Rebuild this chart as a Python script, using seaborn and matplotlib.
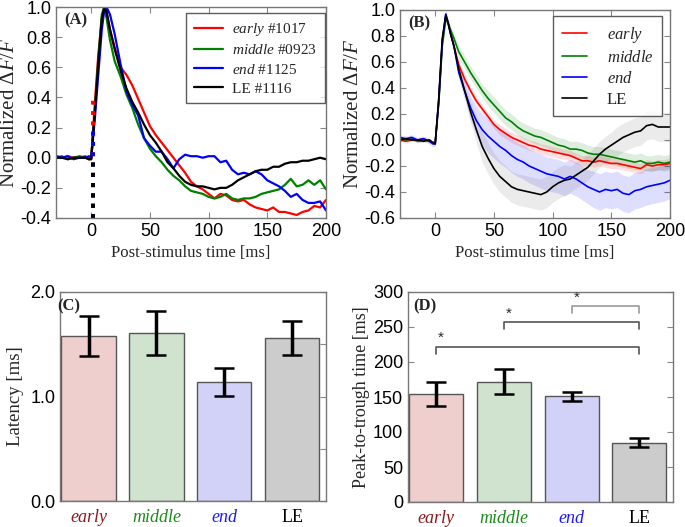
import numpy as np
import pandas as pd
import matplotlib
matplotlib.use("Agg")
import matplotlib.pyplot as plt
import seaborn as sns

# ---- data ----
t = [-30, -25, -20, -15, -10, -5, -2, 0, 3, 6, 9, 11, 13, 16,
     20, 25, 30, 35, 40, 45, 50, 55, 60, 65, 70, 75, 80, 85, 90, 95,
     100, 105, 110, 115, 120, 125, 130, 135, 140, 145, 150, 155, 160, 165,
     170, 175, 180, 185, 190, 195, 200]

# (A) single examples
a_early = [0.01, 0.0, 0.01, 0.0, 0.0, 0.01, -0.01, -0.01, 0.35, 0.68, 0.92, 0.99, 0.97, 0.85,
           0.73, 0.60, 0.55, 0.48, 0.39, 0.30, 0.21, 0.15, 0.10, 0.05, 0.0, -0.05, -0.10, -0.16, -0.19, -0.21,
           -0.24, -0.27, -0.24, -0.25, -0.28, -0.29, -0.28, -0.31, -0.33, -0.34, -0.35, -0.33, -0.36, -0.36,
           -0.37, -0.38, -0.36, -0.35, -0.32, -0.33, -0.28]
a_middle = [0.0, 0.01, -0.01, 0.0, 0.01, 0.0, -0.01, 0.0, 0.30, 0.65, 0.95, 1.0, 0.93, 0.78,
            0.64, 0.54, 0.42, 0.33, 0.22, 0.13, 0.06, 0.01, -0.03, -0.08, -0.12, -0.15, -0.19, -0.22, -0.23, -0.24,
            -0.26, -0.27, -0.26, -0.24, -0.27, -0.28, -0.27, -0.27, -0.26, -0.24, -0.23, -0.22, -0.21, -0.18,
            -0.14, -0.19, -0.18, -0.15, -0.18, -0.15, -0.21]
a_end = [0.01, 0.0, 0.01, -0.01, 0.0, 0.0, 0.01, 0.0, 0.25, 0.55, 0.85, 0.97, 1.0, 0.95,
         0.82, 0.62, 0.44, 0.35, 0.28, 0.13, 0.08, 0.04, 0.04, -0.01, -0.07, -0.01, 0.02, 0.01, 0.01, 0.0,
         0.01, 0.01, -0.03, -0.02, -0.08, -0.11, -0.10, -0.11, -0.09, -0.11, -0.15, -0.17, -0.19, -0.22,
         -0.26, -0.24, -0.28, -0.30, -0.30, -0.29, -0.35]
a_le = [0.0, 0.0, -0.01, 0.0, 0.0, 0.0, -0.01, -0.01, 0.30, 0.62, 0.92, 0.99, 0.97, 0.85,
        0.72, 0.58, 0.46, 0.37, 0.30, 0.22, 0.15, 0.10, 0.04, -0.03, -0.07, -0.12, -0.16, -0.18, -0.19, -0.19,
        -0.20, -0.21, -0.20, -0.20, -0.18, -0.15, -0.13, -0.11, -0.09, -0.08, -0.08, -0.06, -0.06, -0.04,
        -0.03, -0.03, -0.02, -0.02, -0.01, 0.0, -0.01]
a_labels = [r"$\mathit{early}$ #1017", r"$\mathit{middle}$ #0923",
            r"$\mathit{end}$ #1125", "LE #1116"]
onset_x = 1.5
onset_top = [0.4, 0.0, 0.2, 0.0]

# (B) group means and band half widths
b_early = [0.0, -0.01, 0.0, 0.0, 0.01, -0.01, -0.02, -0.02, 0.30, 0.75, 0.95, 0.90, 0.82, 0.72,
           0.58, 0.47, 0.38, 0.30, 0.24, 0.18, 0.12, 0.08, 0.05, 0.02, 0.0, -0.02, -0.04, -0.05, -0.07, -0.08,
           -0.09, -0.10, -0.11, -0.12, -0.14, -0.16, -0.16, -0.17, -0.16, -0.17, -0.18, -0.18, -0.19, -0.20,
           -0.21, -0.22, -0.19, -0.20, -0.19, -0.19, -0.18]
b_middle = [0.01, 0.0, 0.01, -0.01, 0.0, 0.0, -0.02, -0.02, 0.28, 0.72, 0.93, 0.90, 0.85, 0.78,
            0.68, 0.60, 0.52, 0.45, 0.38, 0.32, 0.27, 0.22, 0.17, 0.14, 0.10, 0.07, 0.05, 0.03, 0.02, 0.0,
            -0.02, -0.04, -0.05, -0.07, -0.07, -0.08, -0.10, -0.11, -0.11, -0.12, -0.13, -0.14, -0.15, -0.16,
            -0.17, -0.16, -0.18, -0.18, -0.17, -0.18, -0.17]
b_end = [0.02, 0.01, 0.02, 0.0, 0.01, -0.01, -0.03, -0.03, 0.30, 0.76, 0.97, 0.90, 0.82, 0.72,
         0.52, 0.38, 0.25, 0.15, 0.08, 0.03, -0.01, -0.05, -0.08, -0.12, -0.15, -0.17, -0.20, -0.22, -0.24, -0.26,
         -0.27, -0.28, -0.30, -0.28, -0.30, -0.33, -0.36, -0.38, -0.40, -0.38, -0.39, -0.38, -0.41, -0.42,
         -0.39, -0.38, -0.36, -0.35, -0.34, -0.33, -0.31]
b_le = [0.0, 0.01, 0.0, 0.0, -0.01, 0.0, -0.02, -0.03, 0.32, 0.78, 0.96, 0.90, 0.82, 0.72,
        0.55, 0.38, 0.22, 0.08, -0.05, -0.14, -0.22, -0.28, -0.32, -0.36, -0.38, -0.39, -0.40, -0.41, -0.42, -0.40,
        -0.36, -0.33, -0.31, -0.30, -0.27, -0.24, -0.21, -0.16, -0.11, -0.07, -0.04, -0.01, 0.02, 0.04,
        0.06, 0.07, 0.11, 0.12, 0.10, 0.10, 0.10]
sd_early = [0.01] * 8 + [0.02] * 6 + [0.03] * 7 + [0.04] * 30
sd_middle = [0.01] * 8 + [0.03] * 6 + [0.05] * 5 + [0.06] * 32
sd_end = [0.02] * 8 + [0.03] * 6 + [0.05, 0.07, 0.09, 0.11, 0.12] + [0.13] * 18 + [0.14] * 14
sd_le = [0.01] * 8 + [0.02] * 6 + [0.03, 0.05, 0.08, 0.10, 0.12] + [0.12] * 14 + [0.10] * 8 + [0.11] * 10
b_labels = [r"$\mathit{early}$", r"$\mathit{middle}$", r"$\mathit{end}$", "LE"]

# (C), (D) bars
groups = ["early", "middle", "end", "LE"]
latency = [1.58, 1.61, 1.14, 1.56]
latency_err = [0.19, 0.21, 0.135, 0.165]
p2t = [154, 172, 151, 85]
p2t_err = [17, 18, 6, 7]
# significance brackets: (left group, right group, level)
sig = [(0, 3, 222), (1, 3, 257), (2, 3, 280)]

colors = ["#ff0000", "#008000", "#0000ff", "#000000"]
bar_colors = ["#f4c9c9", "#cce6cc", "#ccccff", "#cccccc"]
tick_colors = ["#8b1a1a", "#1a8c1a", "#1a1aff", "#000000"]

# ---- style ----
sns.set_style("ticks")
plt.rcParams.update({
    "font.family": ["Liberation Sans", "DejaVu Sans"],
    "mathtext.fontset": "custom",
    "mathtext.rm": "Liberation Serif",
    "mathtext.it": "Liberation Serif:italic",
    "mathtext.bf": "Liberation Serif:bold",
    "xtick.direction": "in", "ytick.direction": "in",
    "xtick.top": True, "ytick.right": True,
    "xtick.major.size": 4, "ytick.major.size": 4,
    "axes.edgecolor": "#777777",
    "axes.linewidth": 1.0,
    "xtick.color": "#888888", "ytick.color": "#888888",
    "xtick.labelcolor": "black", "ytick.labelcolor": "black",
    "xtick.labelsize": 13, "ytick.labelsize": 13,
})
serif = "Liberation Serif"

fig = plt.figure(figsize=(6.85, 5.27), dpi=100)
axA = fig.add_axes([56 / 685, 1 - 218 / 527, 270 / 685, 211 / 527])
axB = fig.add_axes([400 / 685, 1 - 218 / 527, 270 / 685, 208 / 527])
axC = fig.add_axes([60 / 685, 1 - 501 / 527, 266 / 685, 209 / 527])
axD = fig.add_axes([408 / 685, 1 - 502 / 527, 265 / 685, 210 / 527])

# panel A
dfA = pd.DataFrame({"t": t * 4,
                    "v": a_early + a_middle + a_end + a_le,
                    "g": sum([[lab] * len(t) for lab in a_labels], [])})
sns.lineplot(data=dfA, x="t", y="v", hue="g", palette=colors, lw=1.6, ax=axA)
for c, top in zip(colors, onset_top):
    axA.vlines(onset_x, -0.4, top, color=c, ls=":", lw=2.8)
axA.set_xlim(-30, 200)
axA.set_ylim(-0.4, 1.0)
axA.set_yticks(np.arange(-0.4, 1.01, 0.2))
axA.set_yticklabels(["%.1f" % v for v in np.arange(-0.4, 1.01, 0.2)])
axA.legend(loc="upper right", frameon=True, fancybox=False, edgecolor="#333333",
           prop={"family": serif, "size": 11}, handlelength=1.9, handletextpad=0.6,
           borderpad=0.5, labelspacing=0.35, borderaxespad=0, bbox_to_anchor=(0.995, 0.97))

# panel B
dfB = pd.DataFrame({"t": t * 4,
                    "v": b_early + b_middle + b_end + b_le,
                    "g": sum([[lab] * len(t) for lab in b_labels], [])})
band = ["#ff0000", "#008000", "#0000ff", "#666666"]
for m, s, c in zip([b_early, b_middle, b_end, b_le],
                   [sd_early, sd_middle, sd_end, sd_le], band):
    m, s = np.array(m), np.array(s)
    axB.fill_between(t, m - s, m + s, color=c, alpha=0.13, lw=0)
sns.lineplot(data=dfB, x="t", y="v", hue="g", palette=colors, lw=1.2, ax=axB)
axB.set_xlim(-30, 200)
axB.set_ylim(-0.6, 1.0)
axB.set_yticks(np.arange(-0.6, 1.01, 0.2))
axB.set_yticklabels(["%.1f" % v for v in np.arange(-0.6, 1.01, 0.2)])
axB.legend(loc="upper right", frameon=True, fancybox=False, edgecolor="#333333",
           prop={"family": serif, "size": 12}, handlelength=1.5, handletextpad=1.2,
           borderpad=0.5, labelspacing=0.3, borderaxespad=0, bbox_to_anchor=(0.97, 0.97))

for ax, lab in [(axA, "(A)"), (axB, "(B)")]:
    ax.set_xticks([0, 50, 100, 150, 200])
    ax.set_xlabel("Post-stimulus time [ms]", family=serif, fontsize=12)
    ax.set_ylabel("Normalized $\\mathit{ΔF/F}$", family=serif, fontsize=15, labelpad=1)
    ax.text(0.03, 0.975, lab, transform=ax.transAxes, family=serif, weight="bold",
            fontsize=12, va="top", ha="left")

# panels C, D
dfC = pd.DataFrame({"g": groups, "lat": latency, "p2t": p2t})
for ax, col, err, lab in [(axC, "lat", latency_err, "(C)"), (axD, "p2t", p2t_err, "(D)")]:
    sns.barplot(data=dfC, x="g", y=col, hue="g", palette=bar_colors, width=0.8,
                edgecolor="#555555", linewidth=1.0, legend=False, ax=ax)
    ax.errorbar(range(4), dfC[col], yerr=err, fmt="none", ecolor="black",
                elinewidth=2.5, capsize=7, capthick=1.8)
    ax.set_xlim(-0.42, 3.5)
    ax.set_xlabel("")
    ax.tick_params(axis="x", length=0, pad=6)
    ax.set_xticks(range(4))
    ax.set_xticklabels(groups, family=serif, fontsize=13)
    for tl, c, g in zip(ax.get_xticklabels(), tick_colors, groups):
        tl.set_color(c)
        if g != "LE":
            tl.set_style("italic")
    ax.text(0.02 if ax is axD else -0.01, 0.97, lab, transform=ax.transAxes, family=serif,
            weight="bold", fontsize=12, va="top", ha="left")

axC.set_ylim(0, 2.0)
axC.set_yticks([0, 0.5, 1.0, 1.5, 2.0])
axC.set_yticklabels(["0.0", "", "1.0", "", "2.0"])
axC.set_ylabel("Latency [ms]", family=serif, fontsize=13.5)

axD.set_ylim(0, 300)
axD.set_yticks(range(0, 301, 50))
axD.set_ylabel("Peak-to-trough time [ms]", family=serif, fontsize=13, labelpad=2)
for i, (l, r, lev) in enumerate(sig):
    c = "#999999" if i == 2 else "#555555"
    axD.plot([l, l, r, r], [lev - 10, lev, lev, lev - 10], color=c, lw=1.2)
    axD.text(l + 0.07, lev + 2, "*", ha="center", va="bottom", fontsize=11)

fig.savefig("out.png", dpi=100)
